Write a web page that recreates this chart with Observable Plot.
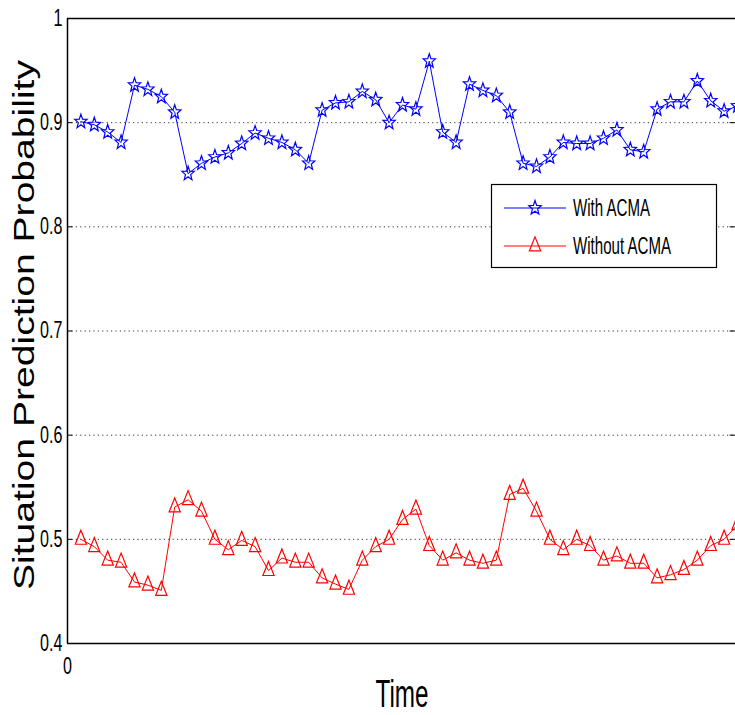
<!DOCTYPE html>
<html><head><meta charset="utf-8">
<script src="https://cdn.jsdelivr.net/npm/d3@7"></script>
<script src="https://cdn.jsdelivr.net/npm/@observablehq/plot@0.6"></script>
<style>html,body{margin:0;padding:0;background:#fff;overflow:hidden}</style>
</head><body><div id="chart"></div>
<script>
const time = [1,2,3,4,5,6,7,8,9,10,11,12,13,14,15,16,17,18,19,20,21,22,23,24,25,26,27,28,29,30,31,32,33,34,35,36,37,38,39,40,41,42,43,44,45,46,47,48,49,50];
const withACMA = [0.901,0.898,0.891,0.881,0.936,0.932,0.925,0.910,0.851,0.861,0.867,0.871,0.880,0.890,0.885,0.881,0.874,0.861,0.912,0.919,0.920,0.930,0.922,0.900,0.917,0.913,0.959,0.891,0.881,0.937,0.931,0.926,0.910,0.861,0.858,0.867,0.881,0.880,0.880,0.885,0.893,0.874,0.872,0.913,0.920,0.920,0.940,0.921,0.911,0.916];
const withoutACMA = [0.500,0.493,0.480,0.478,0.459,0.456,0.451,0.531,0.538,0.527,0.500,0.490,0.499,0.493,0.470,0.482,0.478,0.478,0.463,0.457,0.452,0.480,0.493,0.500,0.519,0.529,0.494,0.480,0.487,0.480,0.477,0.480,0.543,0.549,0.527,0.500,0.490,0.500,0.494,0.480,0.484,0.477,0.477,0.463,0.466,0.471,0.480,0.494,0.500,0.514];
const seriesNames = ["With ACMA", "Without ACMA"];
const yTicks = [0.4, 0.5, 0.6, 0.7, 0.8, 0.9, 1];
const gridTicks = [0.5, 0.6, 0.7, 0.8, 0.9];
const xTicks = [0];
const xLabel = "Time";
const yLabel = "Situation Prediction Probability";

const starSym = {draw(ctx, size){
  const r = Math.sqrt(size/Math.PI);
  for (let k = 0; k < 10; k++) {
    const a = -Math.PI/2 + k*Math.PI/5;
    const rad = k % 2 ? r*0.42 : r;
    const x = rad*Math.cos(a)*0.87, y = rad*Math.sin(a);
    if (k === 0) ctx.moveTo(x, y); else ctx.lineTo(x, y);
  }
  ctx.closePath();
}};
const triSym = {draw(ctx, size){
  const r = Math.sqrt(size/Math.PI);
  ctx.moveTo(0, -r*1.3);
  ctx.lineTo(r*0.8, r*0.7);
  ctx.lineTo(-r*0.8, r*0.7);
  ctx.closePath();
}};

const blueData = time.map((t,i)=>({t, v: withACMA[i]}));
const redData = time.map((t,i)=>({t, v: withoutACMA[i]}));
const XMAX = 49.85;

const chart = Plot.plot({
  width: 735, height: 715,
  marginLeft: 67, marginRight: 0, marginTop: 18, marginBottom: 72,
  style: {fontFamily: "'Liberation Sans', Arial, sans-serif", fontSize: "22px", background: "#fff", color: "#000", overflow: "hidden"},
  x: {domain: [0, XMAX], axis: null},
  y: {domain: [0.4, 1], axis: null},
  marks: [
    Plot.ruleY(gridTicks, {stroke: "#333", strokeWidth: 1, strokeDasharray: "1.2,3.2"}),
    Plot.ruleY(yTicks, {x1: 0, x2: 0.4, stroke: "#000"}),
    Plot.ruleY(yTicks, {x1: XMAX - 0.4, x2: XMAX, stroke: "#000"}),
    Plot.axisY(yTicks, {tickSize: 0, tickPadding: 5, tickFormat: d => d === 1 ? "1" : d.toFixed(1), label: null}),
    Plot.axisX(xTicks, {tickSize: 0, tickPadding: 14, tickFormat: d => String(d), label: null}),
    Plot.ruleX([0], {stroke: "#000", strokeWidth: 1.5}),
    Plot.ruleY([0.4, 1], {stroke: "#000", strokeWidth: 1.5}),
    Plot.line(blueData, {x: "t", y: "v", stroke: "#0000ff", strokeWidth: 1}),
    Plot.dot(blueData, {x: "t", y: "v", symbol: starSym, r: 7.5, stroke: "#0000ff", fill: "none", strokeWidth: 1.2}),
    Plot.line(redData, {x: "t", y: "v", stroke: "#ff0000", strokeWidth: 1}),
    Plot.dot(redData, {x: "t", y: "v", symbol: triSym, r: 7, stroke: "#ff0000", fill: "none", strokeWidth: 1.2})
  ]
});
document.getElementById("chart").appendChild(chart);

const svg = d3.select(chart);
function squish(el, factor, exact) {
  const L = el.getComputedTextLength();
  el.setAttribute("textLength", exact != null ? exact : L*factor);
  el.setAttribute("lengthAdjust", "spacingAndGlyphs");
}
svg.selectAll("text").each(function(){
  this.setAttribute("font-size", 23);
  this.style.fontSize = "23px";
  squish(this, 0.7);
});

// axis titles
const yl = svg.append("text").attr("transform", "translate(34,325) rotate(-90)")
  .attr("text-anchor", "middle").attr("font-size", 29).attr("fill", "#000").text(yLabel);
squish(yl.node(), null, 530);
const xl = svg.append("text").attr("x", 402).attr("y", 707)
  .attr("text-anchor", "middle").attr("font-size", 39).attr("fill", "#000").text(xLabel);
squish(xl.node(), null, 53);

// legend
const lg = svg.append("g").attr("text-anchor", "start");
lg.append("rect").attr("x", 491.5).attr("y", 184.5).attr("width", 225).attr("height", 83)
  .attr("fill", "#fff").attr("stroke", "#000").attr("stroke-width", 1.2);
const legendItems = [
  {name: seriesNames[0], color: "#0000ff", sym: starSym, r: 7.5, y: 208, len: 77},
  {name: seriesNames[1], color: "#ff0000", sym: triSym, r: 7, y: 246, len: 98}
];
legendItems.forEach(it => {
  lg.append("line").attr("x1", 504).attr("x2", 566).attr("y1", it.y).attr("y2", it.y)
    .attr("stroke", it.color).attr("stroke-width", 1);
  const p = d3.path(); it.sym.draw(p, Math.PI*it.r*it.r);
  lg.append("path").attr("d", p.toString()).attr("transform", `translate(535,${it.y})`)
    .attr("fill", "none").attr("stroke", it.color).attr("stroke-width", 1.2);
  const t = lg.append("text").attr("x", 573).attr("y", it.y).attr("dy", "0.35em")
    .attr("text-anchor", "start").attr("font-size", 23).attr("fill", "#000").text(it.name);
  squish(t.node(), null, it.len);
});
</script>
</body></html>
